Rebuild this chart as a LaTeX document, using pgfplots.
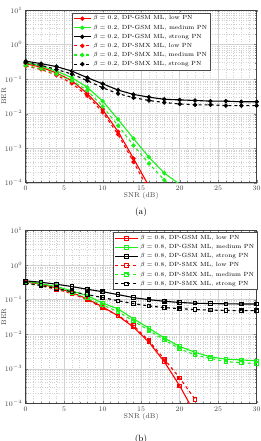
\documentclass[border=0pt]{standalone}
\usepackage{pgfplots}
\usepackage{pgfplotstable}
\pgfplotsset{compat=1.18}
\definecolor{mgreen}{rgb}{0.1,0.95,0.1}

% BER results: columns SNR (dB) and BER
\pgfplotstableread{
snr ber
0 0.28
2 0.22
4 0.15
6 0.09
8 0.038
10 0.013
12 0.003
14 0.0005
16 0.00008
}\aGSMlow
\pgfplotstableread{
snr ber
0 0.24
2 0.19
4 0.13
6 0.075
8 0.033
10 0.011
12 0.0025
14 0.0004
16 0.00006
}\aSMXlow
\pgfplotstableread{
snr ber
0 0.30
2 0.24
4 0.17
6 0.11
8 0.058
10 0.023
12 0.0068
14 0.0019
16 0.00055
18 0.00019
20 0.00009
}\aGSMmed
\pgfplotstableread{
snr ber
0 0.25
2 0.20
4 0.14
6 0.09
8 0.047
10 0.016
12 0.0045
14 0.0012
16 0.00036
18 0.00012
20 0.00005
}\aSMXmed
\pgfplotstableread{
snr ber
0 0.33
2 0.28
4 0.23
6 0.17
8 0.11
10 0.073
12 0.048
14 0.036
16 0.030
18 0.026
20 0.025
22 0.024
24 0.023
26 0.023
28 0.022
30 0.022
}\aGSMstr
\pgfplotstableread{
snr ber
0 0.30
2 0.25
4 0.19
6 0.14
8 0.09
10 0.056
12 0.038
14 0.029
16 0.024
18 0.021
20 0.019
22 0.018
24 0.018
26 0.017
28 0.017
30 0.017
}\aSMXstr

\pgfplotstableread{
snr ber
0 0.33
2 0.28
4 0.22
6 0.16
8 0.105
10 0.062
12 0.034
14 0.016
16 0.0059
18 0.0016
20 0.00032
22 0.00005
}\bGSMlow
\pgfplotstableread{
snr ber
0 0.30
2 0.25
4 0.20
6 0.15
8 0.10
10 0.058
12 0.035
14 0.018
16 0.0065
18 0.0019
20 0.00054
22 0.00013
}\bSMXlow
\pgfplotstableread{
snr ber
0 0.34
2 0.29
4 0.24
6 0.18
8 0.13
10 0.08
12 0.054
14 0.028
16 0.015
18 0.0078
20 0.0044
22 0.003
24 0.0022
26 0.0019
28 0.0018
30 0.0017
}\bGSMmed
\pgfplotstableread{
snr ber
0 0.30
2 0.25
4 0.21
6 0.16
8 0.11
10 0.07
12 0.045
14 0.024
16 0.013
18 0.0068
20 0.0038
22 0.0025
24 0.002
26 0.0016
28 0.0015
30 0.0014
}\bSMXmed
\pgfplotstableread{
snr ber
0 0.35
2 0.32
4 0.28
6 0.24
8 0.20
10 0.17
12 0.14
14 0.115
16 0.10
18 0.09
20 0.083
22 0.079
24 0.077
26 0.076
28 0.075
30 0.075
}\bGSMstr
\pgfplotstableread{
snr ber
0 0.30
2 0.26
4 0.21
6 0.17
8 0.14
10 0.115
12 0.093
14 0.077
16 0.066
18 0.059
20 0.055
22 0.052
24 0.050
26 0.049
28 0.048
30 0.048
}\bSMXstr

\pgfplotsset{
  berplot/.style={
    scale only axis,
    width=231bp, height=172.7bp,
    anchor=south west,
    xmin=0, xmax=30, ymin=1e-4, ymax=10,
    xtick={0,5,...,30},
    ytick={1e-4,1e-3,1e-2,1e-1,1,10},
    tick align=inside,
    tick pos=both,
    major tick length=2.5pt,
    minor tick length=1.5pt,
    axis line style={draw=black!75, line width=0.5pt},
    grid=both,
    major grid style={draw=black!18, line width=0.4pt},
    minor grid style={draw=black!18, dotted, line width=0.3pt},
    minor x tick num=4,
    tick label style={font=\fontsize{7}{8}\selectfont, text=black!75},
    label style={font=\fontsize{7}{8}\selectfont, text=black!75},
    xlabel={SNR (dB)},
    ylabel={BER},
    xlabel style={at={(axis description cs:0.5,-0.077)}, anchor=center},
    ylabel style={at={(axis description cs:-0.095,0.5)}, anchor=center},
    legend style={font=\fontsize{6}{6.8}\selectfont, draw=black!70,
      fill=white, inner sep=1pt, row sep=-0.6pt, cells={anchor=west}},
    every axis plot/.append style={line width=1.1pt},
  },
  % wider legend sample used in the second panel
  longlegend/.style={
    legend image code/.code={
      \draw[mark repeat=2, mark phase=2, ##1]
        plot coordinates {(0cm,0cm) (0.4cm,0cm) (0.8cm,0cm)};}},
}

\begin{document}
\begin{tikzpicture}
\path[use as bounding box] (0bp,0bp) rectangle (261bp,-441bp);

% ---------- (a) beta = 0.2, circle markers ----------
\begin{semilogyaxis}[berplot, at={(25.7bp,-182.7bp)},
  legend style={at={(0.5,0.985)}, anchor=north}]
\addplot[red, mark=*, mark size=1.6pt] table[x=snr,y=ber] {\aGSMlow};
\addlegendentry{$\beta=0.2$, DP-GSM ML, low PN}
\addplot[mgreen, mark=*, mark size=1.6pt] table[x=snr,y=ber] {\aGSMmed};
\addlegendentry{$\beta=0.2$, DP-GSM ML, medium PN}
\addplot[black, mark=*, mark size=1.6pt] table[x=snr,y=ber] {\aGSMstr};
\addlegendentry{$\beta=0.2$, DP-GSM ML, strong PN}
\addplot[red, dashed, mark=*, mark size=1.6pt, mark options={solid}] table[x=snr,y=ber] {\aSMXlow};
\addlegendentry{$\beta=0.2$, DP-SMX ML, low PN}
\addplot[mgreen, dashed, mark=*, mark size=1.6pt, mark options={solid}] table[x=snr,y=ber] {\aSMXmed};
\addlegendentry{$\beta=0.2$, DP-SMX ML, medium PN}
\addplot[black, dashed, mark=*, mark size=1.6pt, mark options={solid}] table[x=snr,y=ber] {\aSMXstr};
\addlegendentry{$\beta=0.2$, DP-SMX ML, strong PN}
\end{semilogyaxis}
\node[font=\fontsize{9}{10}\selectfont] at (141bp,-212bp) {(a)};

% ---------- (b) beta = 0.8, square markers ----------
\begin{semilogyaxis}[berplot, longlegend, at={(25.7bp,-403.3bp)},
  legend style={at={(1.003,0.99)}, anchor=north east}]
\addplot[red, mark=square, mark size=1.7pt] table[x=snr,y=ber] {\bGSMlow};
\addlegendentry{$\beta=0.8$, DP-GSM ML, low PN}
\addplot[mgreen, mark=square, mark size=1.7pt] table[x=snr,y=ber] {\bGSMmed};
\addlegendentry{$\beta=0.8$, DP-GSM ML, medium PN}
\addplot[black, mark=square, mark size=1.7pt] table[x=snr,y=ber] {\bGSMstr};
\addlegendentry{$\beta=0.8$, DP-GSM ML, strong PN}
\addplot[red, dashed, mark=square, mark size=1.7pt, mark options={solid}] table[x=snr,y=ber] {\bSMXlow};
\addlegendentry{$\beta=0.8$, DP-SMX ML, low PN}
\addplot[mgreen, dashed, mark=square, mark size=1.7pt, mark options={solid}] table[x=snr,y=ber] {\bSMXmed};
\addlegendentry{$\beta=0.8$, DP-SMX ML, medium PN}
\addplot[black, dashed, mark=square, mark size=1.7pt, mark options={solid}] table[x=snr,y=ber] {\bSMXstr};
\addlegendentry{$\beta=0.8$, DP-SMX ML, strong PN}
\end{semilogyaxis}
\node[font=\fontsize{9}{10}\selectfont] at (141bp,-439bp) {(b)};
\end{tikzpicture}
\end{document}
